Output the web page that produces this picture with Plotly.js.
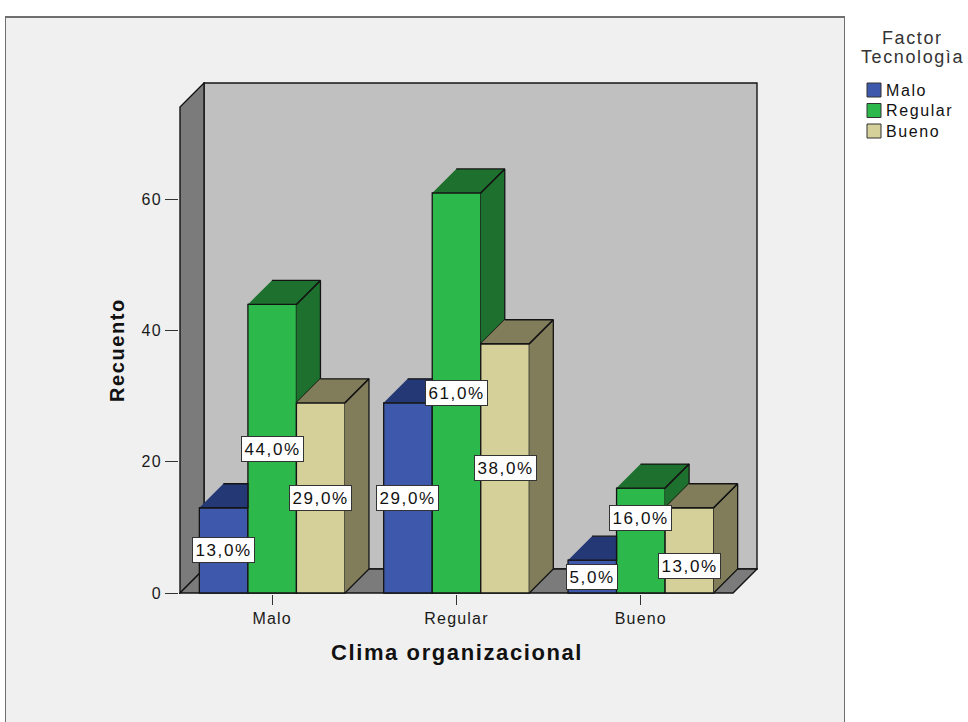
<!DOCTYPE html>
<html>
<head>
<meta charset="utf-8">
<title>Clima organizacional por Factor Tecnologìa</title>
<script src="https://cdn.plot.ly/plotly-3.0.1.min.js"></script>
<style>
  html, body { margin: 0; padding: 0; background: #ffffff; }
  #frame {
    position: absolute; left: 5px; top: 16px; width: 838px; height: 730px;
    background: #f0f0f0; border: 1px solid #6f6f6f; border-top: 2px solid #6f6f6f;
  }
  #chart { position: absolute; left: 0; top: 0; width: 968px; height: 722px; }
  .annotation-text { letter-spacing: 1.6px; }
  .xtick text, .ytick text { letter-spacing: 1.2px; }
</style>
</head>
<body>
<div id="frame"></div>
<div id="chart"></div>
<script>
// Recuento por Clima organizacional, agrupado por Factor Tecnologìa
const categories = ['Malo', 'Regular', 'Bueno'];
const seriesNames = ['Malo', 'Regular', 'Bueno'];
const countsMalo = [13, 29, 5];
const countsRegular = [44, 61, 16];
const countsBueno = [29, 38, 13];
const yTickVals = [0, 20, 40, 60];
const xTitle = 'Clima organizacional';
const yTitle = 'Recuento';
const legendTitle = 'Factor Tecnologìa';

const seriesValues = [countsMalo, countsRegular, countsBueno];
const frontColors = ['#3e58ab', '#2db84b', '#d5d09a'];
const shadeColors = ['#233874', '#1d702e', '#817d5b'];
const edgeColor = '#141414';

// pixel geometry of the pseudo-3D box
const W = 968, H = 722;
const PLOT_L = 179, PLOT_B = 594;          // plot area left / bottom (px)
const FRONT_W = 553, FRONT_H = 486;        // front floor edge / front wall edge (px)
const DEPTH = 24, PAD = 1;
const YTOP = 74.1;                          // value at the top of the front wall edge
const PXU_X = FRONT_W / categories.length;
const PXU_Y = FRONT_H / YTOP;
const PLOT_W = FRONT_W + DEPTH + 2 * PAD;
const PLOT_H = FRONT_H + DEPTH + 2 * PAD;
const DX = DEPTH / PXU_X, DY = DEPTH / PXU_Y;
const XL = -0.5, XR = categories.length - 0.5;
const xRange = [XL - PAD / PXU_X, XL + (PLOT_W - PAD) / PXU_X];
const yRange = [-PAD / PXU_Y, (PLOT_H - PAD) / PXU_Y];

const BARGAP = 0.21;
const BW = (1 - BARGAP) / seriesNames.length;
const catIdx = categories.map((_, i) => i);
const barLeft = (c, k) => c - 1.5 * BW + k * BW;

// pixel -> paper helpers for items outside the plot area
const paperX = px => (px - PLOT_L) / PLOT_W;
const paperY = py => (PLOT_B - py) / PLOT_H;

const fmtPct = v => v.toFixed(1).replace('.', ',') + '%';

const traces = [];

// front faces
seriesNames.forEach((name, k) => {
  traces.push({
    type: 'bar', name: name, x: catIdx, y: seriesValues[k],
    width: BW, offset: -1.5 * BW + k * BW,
    marker: { color: frontColors[k], line: { color: edgeColor, width: 1.3 } },
    showlegend: false, hoverinfo: 'skip'
  });
});

// top and side faces, keeping only the parts not hidden by the neighbouring bar
seriesNames.forEach((name, k) => {
  const xs = [], ys = [];
  const poly = pts => { pts.forEach(p => { xs.push(p[0]); ys.push(p[1]); }); xs.push(null); ys.push(null); };
  catIdx.forEach(c => {
    const h = seriesValues[k][c];
    const xl = barLeft(c, k), xr = xl + BW;
    const hasNext = k < seriesNames.length - 1;
    const hn = hasNext ? seriesValues[k + 1][c] : 0;
    if (hasNext && hn >= h) {
      poly([[xl, h], [xr, h], [xr, h + DY], [xl + DX, h + DY]]);
    } else {
      poly([[xl, h], [xr, h], [xr + DX, h + DY], [xl + DX, h + DY]]);
      poly([[xr, hn], [xr + DX, hn + DY], [xr + DX, h + DY], [xr, h]]);
    }
  });
  traces.push({
    type: 'scatter', mode: 'lines', x: xs, y: ys, fill: 'toself',
    fillcolor: shadeColors[k], line: { color: edgeColor, width: 1.3 },
    showlegend: false, hoverinfo: 'skip'
  });
});

// walls and floor
const shapes = [
  { type: 'rect', layer: 'below', xref: 'x', yref: 'y',
    x0: XL + DX, x1: XR + DX, y0: DY, y1: YTOP + DY,
    fillcolor: '#c0c0c0', line: { color: edgeColor, width: 1.4 } },
  { type: 'path', layer: 'below', xref: 'x', yref: 'y',
    path: `M${XL},0 L${XL},${YTOP} L${XL + DX},${YTOP + DY} L${XL + DX},${DY} Z`,
    fillcolor: '#7b7b7b', line: { color: edgeColor, width: 1.4 } },
  { type: 'path', layer: 'below', xref: 'x', yref: 'y',
    path: `M${XL},0 L${XR},0 L${XR + DX},${DY} L${XL + DX},${DY} Z`,
    fillcolor: '#7b7b7b', line: { color: edgeColor, width: 1.4 } }
];

const baseFont = 'Liberation Sans, Arial, sans-serif';
const annotations = [];

// value labels
const labelNudge = { 'Regular|Bueno': 23, 'Bueno|Bueno': -16 };
seriesNames.forEach((name, k) => {
  catIdx.forEach(c => {
    const v = seriesValues[k][c];
    annotations.push({
      xref: 'x', yref: 'y', x: barLeft(c, k) + BW / 2, y: v / 2,
      yshift: labelNudge[name + '|' + categories[c]] || 0,
      text: fmtPct(v), showarrow: false,
      font: { family: baseFont, size: 17, color: '#111' },
      bgcolor: '#ffffff', bordercolor: '#333333', borderwidth: 1, borderpad: 2.5
    });
  });
});

// axis titles, centred on the front edges
annotations.push({
  xref: 'x', yref: 'paper', x: (XL + XR) / 2, y: 0, yanchor: 'middle', yshift: -58,
  text: xTitle, showarrow: false,
  font: { family: baseFont, size: 22, color: '#111', weight: 'bold' }
});
annotations.push({
  xref: 'paper', yref: 'y', x: 0, xanchor: 'center', xshift: 117 - PLOT_L, y: YTOP / 2,
  text: yTitle, textangle: -90, showarrow: false,
  font: { family: baseFont, size: 20, color: '#111', weight: 'bold' }
});

// legend
legendTitle.split(' ').forEach((line, i) => {
  annotations.push({
    xref: 'paper', yref: 'paper', x: paperX(912), y: paperY(37.5 + i * 19.5),
    xanchor: 'center', yanchor: 'middle', text: line, showarrow: false,
    font: { family: baseFont, size: 18, color: '#333' }
  });
});
seriesNames.forEach((name, k) => {
  const cy = 90 + k * 20.5;
  shapes.push({
    type: 'rect', xref: 'paper', yref: 'paper',
    x0: paperX(867), x1: paperX(881), y0: paperY(cy + 7), y1: paperY(cy - 7),
    fillcolor: frontColors[k], line: { color: '#333', width: 1 }
  });
  annotations.push({
    xref: 'paper', yref: 'paper', x: paperX(884), y: paperY(cy),
    xanchor: 'left', yanchor: 'middle', text: name, showarrow: false,
    font: { family: baseFont, size: 16, color: '#111' }
  });
});

const layout = {
  width: W, height: H,
  margin: { l: PLOT_L, r: W - PLOT_L - PLOT_W, t: PLOT_B - PLOT_H, b: H - PLOT_B },
  paper_bgcolor: 'rgba(0,0,0,0)', plot_bgcolor: 'rgba(0,0,0,0)',
  barmode: 'overlay', showlegend: false,
  xaxis: {
    range: xRange, tickvals: catIdx, ticktext: categories,
    ticks: 'outside', ticklen: 10, tickwidth: 1, tickcolor: '#333',
    showgrid: false, zeroline: false, showline: false, fixedrange: true,
    tickfont: { family: baseFont, size: 16, color: '#1a1a1a' }
  },
  yaxis: {
    range: yRange, tickvals: yTickVals,
    ticks: 'outside', ticklen: 13, tickwidth: 1, tickcolor: '#333',
    showgrid: false, zeroline: false, showline: false, fixedrange: true,
    tickfont: { family: baseFont, size: 16, color: '#1a1a1a' }
  },
  shapes: shapes,
  annotations: annotations
};

Plotly.newPlot('chart', traces, layout, { displayModeBar: false, staticPlot: true });
</script>
</body>
</html>
